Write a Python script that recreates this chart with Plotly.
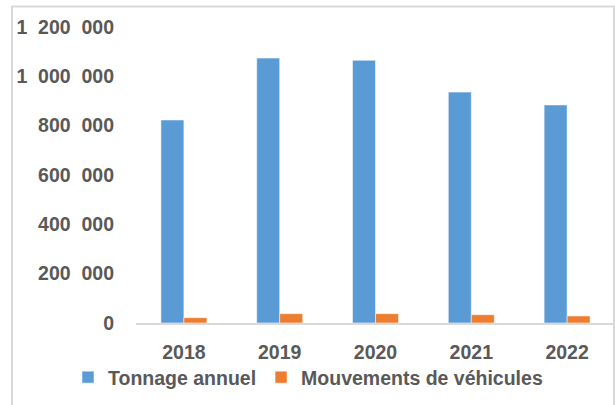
import plotly.graph_objects as go

years = ["2018", "2019", "2020", "2021", "2022"]
tonnage = [823000, 1074000, 1065000, 936000, 884000]
mouvements = [21500, 37700, 37700, 33600, 28400]
y_tickvals = [0, 200000, 400000, 600000, 800000, 1000000, 1200000]
y_ticktext = ["0", "200\u00a0\u00a0000", "400\u00a0\u00a0000", "600\u00a0\u00a0000",
              "800\u00a0\u00a0000", "1\u00a0\u00a0000\u00a0\u00a0000", "1\u00a0\u00a0200\u00a0\u00a0000"]

FONT = "Liberation Sans, Arial, sans-serif"
TXT = "#595959"
FS = 19.5
L, R, T, B = 136, 0, 27, 82
W, H = 615, 405
pw, ph = W - L - R, H - T - B

def px(x):
    return (x - L) / pw

def py(y):
    return (H - B - y) / ph

fig = go.Figure()
fig.add_trace(go.Bar(x=years, y=tonnage, name="Tonnage annuel",
                     marker=dict(color="#5B9BD5", line=dict(color="rgba(255,255,255,0.5)", width=1))))
fig.add_trace(go.Bar(x=years, y=mouvements, name="Mouvements de véhicules",
                     marker=dict(color="#ED7D31", line=dict(color="rgba(255,255,255,0.5)", width=1))))

fig.update_layout(
    width=W, height=H,
    margin=dict(l=L, r=R, t=T, b=B, pad=0),
    paper_bgcolor="white", plot_bgcolor="white",
    barmode="group", bargap=0.52, bargroupgap=0,
    font=dict(family=FONT, size=FS, color=TXT, weight="bold"),
    showlegend=True,
    legend=dict(orientation="h", x=px(68), y=py(358), xanchor="left", yanchor="top",
                font=dict(family=FONT, size=FS, color=TXT, weight="bold"),
                bgcolor="rgba(0,0,0,0)", itemclick=False, tracegroupgap=0),
    xaxis=dict(type="category", showgrid=False, zeroline=False, showline=True,
               linecolor="#D9D9D9", linewidth=2, ticks="",
               tickfont=dict(family=FONT, size=FS, color=TXT, weight="bold"),
               ticklabelstandoff=11),
    yaxis=dict(range=[0, 1200000], showgrid=False, zeroline=False, showline=False,
               tickmode="array", tickvals=y_tickvals, ticktext=y_ticktext, ticks="",
               tickfont=dict(family=FONT, size=FS, color=TXT, weight="bold"),
               ticklabelstandoff=21),
    shapes=[dict(type="rect", xref="paper", yref="paper",
                 x0=px(12), x1=px(614), y0=py(6.5), y1=py(420),
                 line=dict(color="#D9D9D9", width=2), fillcolor="rgba(0,0,0,0)", layer="below")],
)

fig.write_html("out.html", config={"displayModeBar": False},
               post_script="document.body.style.margin='0';")
